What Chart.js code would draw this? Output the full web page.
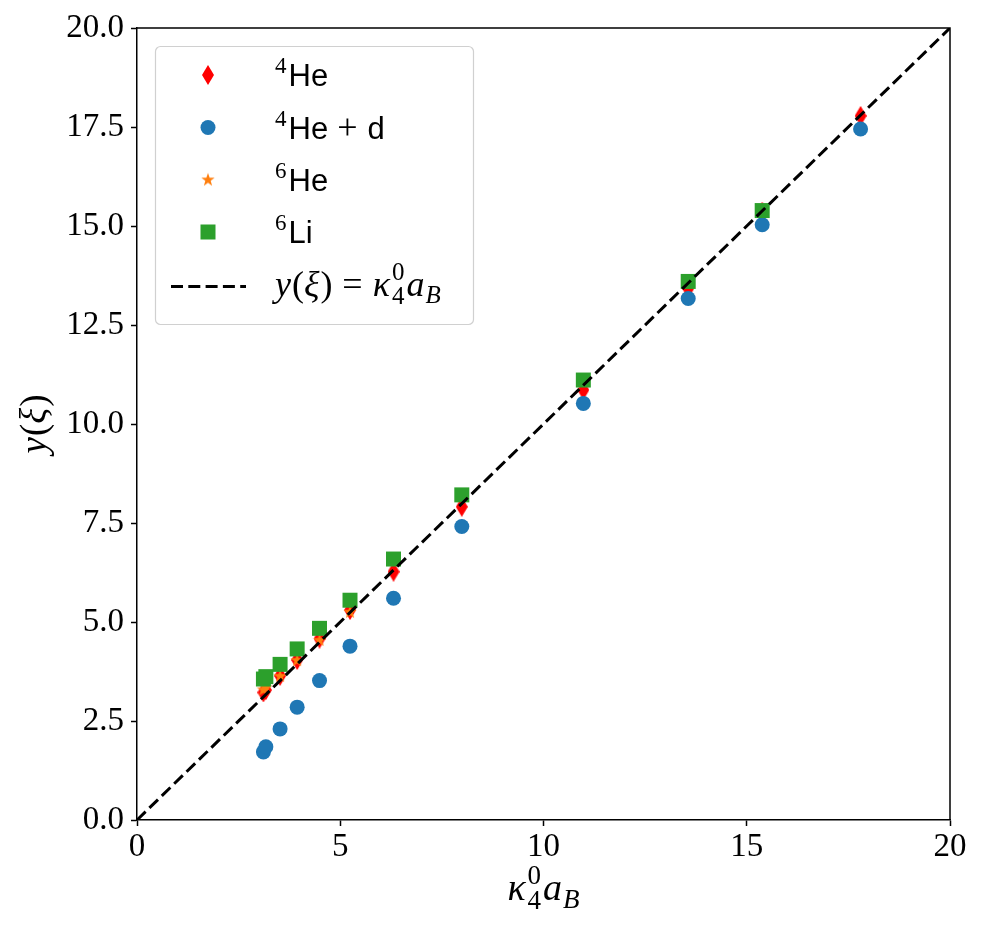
<!DOCTYPE html>
<html>
<head>
<meta charset="utf-8">
<script src="https://cdn.jsdelivr.net/npm/chart.js@4/dist/chart.umd.min.js"></script>
<style>
  html, body { margin: 0; padding: 0; background: #fff; }
</style>
</head>
<body>
<canvas id="chart" width="983" height="932"></canvas>
<script>
// kappa_4^0 a_B values (x) shared by all nuclei
const kappaA = [3.11, 3.17, 3.52, 3.94, 4.49, 5.24, 6.31, 7.99, 10.98, 13.56, 15.38, 17.80];
// y(xi) for each system
const yHe4 = [3.22, 3.28, 3.64, 4.04, 4.58, 5.30, 6.27, 7.91, 10.86, 13.42, 15.36, 17.78];
const yHe4d = [1.72, 1.85, 2.30, 2.85, 3.52, 4.39, 5.60, 7.41, 10.52, 13.17, 15.03, 17.45];
const yHe6 = [3.30, 3.35, 3.64, 4.04, 4.55, 5.26];
const yLi6 = [3.56, 3.62, 3.93, 4.32, 4.84, 5.55, 6.59, 8.21, 11.11, 13.60, 15.39];
// identity line y = x
const refLine = [0, 20];
const xTicks = [0, 5, 10, 15, 20];
const yTicks = [0, 2.5, 5, 7.5, 10, 12.5, 15, 17.5, 20];

const RED = '#ff0000', BLUE = '#1f77b4', ORANGE = '#ff7f0e', GREEN = '#2ca02c';
const SERIF = '"Liberation Serif", "DejaVu Serif", serif';
const SANS = '"Liberation Sans", Arial, sans-serif';

function pts(ys) {
    return ys.map((y, i) => ({ x: kappaA[i], y: y }));
}

// thin diamond marker (matplotlib 'd')
function makeDiamond(color, w, h) {
    const c = document.createElement('canvas');
    c.width = w; c.height = h;
    const g = c.getContext('2d');
    g.fillStyle = color;
    g.beginPath();
    g.moveTo(w / 2, 0); g.lineTo(w, h / 2); g.lineTo(w / 2, h); g.lineTo(0, h / 2);
    g.closePath();
    g.fill();
    return c;
}

// filled five point star (matplotlib '*')
function makeStar(color, r) {
    const s = Math.ceil(r * 2) + 2;
    const c = document.createElement('canvas');
    c.width = s; c.height = s;
    const g = c.getContext('2d');
    g.fillStyle = color;
    g.beginPath();
    for (let i = 0; i < 10; i++) {
        const rad = i % 2 === 0 ? r : r * 0.4;
        const a = -Math.PI / 2 + i * Math.PI / 5;
        const px = s / 2 + rad * Math.cos(a), py = s / 2 + 0.5 + rad * Math.sin(a);
        if (i === 0) g.moveTo(px, py); else g.lineTo(px, py);
    }
    g.closePath();
    g.fill();
    return c;
}

const diamondImg = makeDiamond(RED, 12, 20);
const starImg = makeStar(ORANGE, 7);

// draws a list of text runs, some with stacked super/subscripts
function drawRuns(ctx, parts, x, y) {
    let cx = x;
    parts.forEach(p => {
        if (p.sup !== undefined) {
            ctx.font = p.f;
            ctx.fillText(p.sup, cx, y + p.supDy);
            ctx.fillText(p.sub, cx, y + p.subDy);
            cx += Math.max(ctx.measureText(p.sup).width, ctx.measureText(p.sub).width) + (p.gap || 0);
        } else {
            ctx.font = p.f;
            ctx.fillText(p.t, cx, y + (p.dy || 0));
            cx += ctx.measureText(p.t).width + (p.gap || 0);
        }
    });
    return cx - x;
}

function measureRuns(ctx, parts) {
    ctx.save();
    ctx.globalAlpha = 0;
    const w = drawRuns(ctx, parts, -9999, -9999);
    ctx.restore();
    return w;
}

function kappaParts(size) {
    const it = 'italic ' + size + 'px ' + SERIF;
    const sm = Math.round(size * 0.7) + 'px ' + SERIF;
    const smi = 'italic ' + Math.round(size * 0.7) + 'px ' + SERIF;
    return [
        { t: '\u03ba', f: it, gap: 2 },
        { sup: '0', sub: '4', f: sm, supDy: -size * 0.42, subDy: size * 0.24, gap: 2 },
        { t: 'a', f: it, gap: 1 },
        { t: 'B', f: smi, dy: size * 0.2 }
    ];
}

const extras = {
    id: 'extras',
    afterDraw(chart) {
        const ctx = chart.ctx;
        const a = chart.chartArea;
        ctx.save();
        // top and right spines
        ctx.strokeStyle = '#000';
        ctx.lineWidth = 1.5;
        ctx.beginPath();
        ctx.moveTo(a.left, a.top); ctx.lineTo(a.right, a.top); ctx.lineTo(a.right, a.bottom);
        ctx.stroke();

        ctx.fillStyle = '#000';
        ctx.textBaseline = 'alphabetic';
        ctx.textAlign = 'left';

        // x axis title
        const xp = kappaParts(38);
        const xw = measureRuns(ctx, xp);
        drawRuns(ctx, xp, (a.left + a.right) / 2 - xw / 2, 900);

        // y axis title
        const yp = [
            { t: 'y', f: 'italic 37px ' + SERIF, gap: 1 },
            { t: '(', f: '37px ' + SERIF },
            { t: '\u03be', f: 'italic 37px ' + SERIF, gap: 1 },
            { t: ')', f: '37px ' + SERIF }
        ];
        const yw = measureRuns(ctx, yp);
        ctx.save();
        ctx.translate(46, (a.top + a.bottom) / 2);
        ctx.rotate(-Math.PI / 2);
        drawRuns(ctx, yp, -yw / 2, 0);
        ctx.restore();

        // legend box
        const bx = 155.5, by = 46.5, bw = 318, bh = 278;
        ctx.fillStyle = 'rgba(255,255,255,0.8)';
        ctx.strokeStyle = '#d0d0d0';
        ctx.lineWidth = 1.2;
        ctx.beginPath();
        ctx.roundRect(bx, by, bw, bh, 5);
        ctx.fill();
        ctx.stroke();

        const mx = 208, tx = 275;
        const rows = [75, 127.5, 179.5, 232, 284.5];
        // markers
        ctx.drawImage(diamondImg, mx - 6, rows[0] - 10);
        ctx.fillStyle = BLUE;
        ctx.beginPath(); ctx.arc(mx, rows[1], 7.5, 0, Math.PI * 2); ctx.fill();
        ctx.drawImage(starImg, mx - starImg.width / 2, rows[2] - starImg.height / 2);
        ctx.fillStyle = GREEN;
        ctx.fillRect(mx - 7.5, rows[3] - 7.5, 15, 15);
        ctx.strokeStyle = '#000';
        ctx.lineWidth = 3;
        ctx.setLineDash([12, 5.3]);
        ctx.beginPath(); ctx.moveTo(171, rows[4] + 2); ctx.lineTo(246, rows[4] + 2); ctx.stroke();
        ctx.setLineDash([]);

        // legend labels
        ctx.fillStyle = '#000';
        const supF = '23px ' + SERIF, txtF = '31px ' + SANS;
        const sup = d => ({ t: d, f: supF, dy: -13, gap: 2 });
        drawRuns(ctx, [sup('4'), { t: 'He', f: txtF }], tx, rows[0] + 11);
        drawRuns(ctx, [sup('4'), { t: 'He', f: txtF, gap: 9 }, { t: '+', f: '36px ' + SERIF, gap: 10 }, { t: 'd', f: txtF }], tx, rows[1] + 11);
        drawRuns(ctx, [sup('6'), { t: 'He', f: txtF }], tx, rows[2] + 11);
        drawRuns(ctx, [sup('6'), { t: 'Li', f: txtF }], tx, rows[3] + 11);
        const lp = [
            { t: 'y', f: 'italic 36px ' + SERIF, gap: 1 },
            { t: '(', f: '36px ' + SERIF },
            { t: '\u03be', f: 'italic 36px ' + SERIF, gap: 1 },
            { t: ')', f: '36px ' + SERIF, gap: 10 },
            { t: '=', f: '36px ' + SERIF, gap: 10 }
        ].concat(kappaParts(36));
        drawRuns(ctx, lp, tx, rows[4] + 11);
        ctx.restore();
    }
};

const ctx = document.getElementById('chart').getContext('2d');
const chart = new Chart(ctx, {
    type: 'scatter',
    data: {
        datasets: [
            {
                label: 'y = x',
                type: 'line',
                data: refLine.map(v => ({ x: v, y: v })),
                borderColor: '#000',
                borderWidth: 3,
                borderDash: [12, 5.3],
                pointRadius: 0,
                fill: false,
                order: 0
            },
            {
                label: '6Li',
                data: pts(yLi6),
                pointStyle: 'rect',
                pointRadius: 10.6,
                backgroundColor: GREEN,
                borderWidth: 0,
                order: 1
            },
            {
                label: '6He',
                data: pts(yHe6),
                pointStyle: starImg,
                backgroundColor: ORANGE,
                order: 2
            },
            {
                label: '4He + d',
                data: pts(yHe4d),
                pointStyle: 'circle',
                pointRadius: 7.5,
                backgroundColor: BLUE,
                borderWidth: 0,
                order: 3
            },
            {
                label: '4He',
                data: pts(yHe4),
                pointStyle: diamondImg,
                backgroundColor: RED,
                order: 4
            }
        ]
    },
    options: {
        responsive: false,
        animation: false,
        devicePixelRatio: 1,
        layout: { padding: { top: 28, right: 33, left: 0, bottom: 0 } },
        plugins: { legend: { display: false }, tooltip: { enabled: false } },
        scales: {
            x: {
                type: 'linear',
                min: 0, max: 20,
                afterBuildTicks: s => { s.ticks = xTicks.map(v => ({ value: v })); },
                afterFit: s => { s.height = 112; },
                ticks: { color: '#000', font: { family: SERIF, size: 33 }, padding: 2, maxRotation: 0 },
                grid: { drawOnChartArea: false, drawTicks: true, tickLength: 6, tickWidth: 1.5, tickColor: '#000' },
                border: { display: true, color: '#000', width: 1.5 }
            },
            y: {
                type: 'linear',
                min: 0, max: 20,
                afterBuildTicks: s => { s.ticks = yTicks.map(v => ({ value: v })); },
                afterFit: s => { s.width = 137; },
                ticks: { color: '#000', font: { family: SERIF, size: 33 }, padding: 7, callback: v => v.toFixed(1) },
                grid: { drawOnChartArea: false, drawTicks: true, tickLength: 6, tickWidth: 1.5, tickColor: '#000' },
                border: { display: true, color: '#000', width: 1.5 }
            }
        }
    },
    plugins: [extras]
});
</script>
</body>
</html>
